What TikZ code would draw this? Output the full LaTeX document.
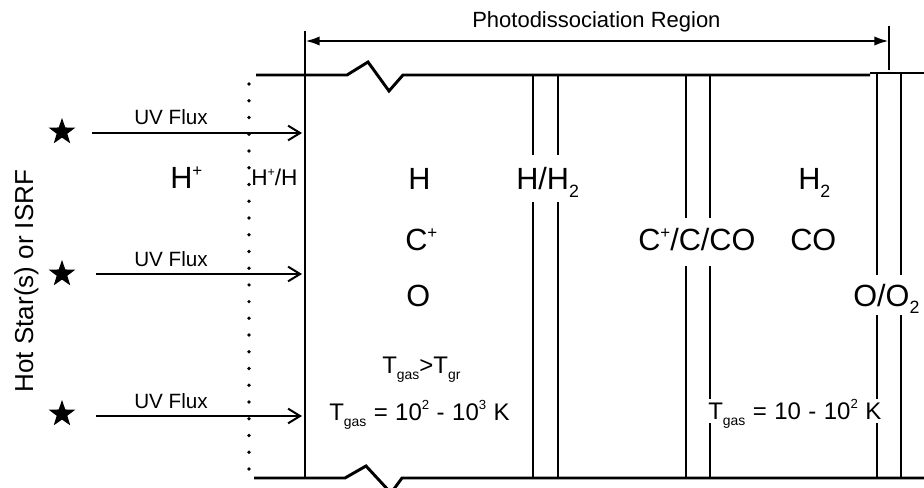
\documentclass[tikz,border=0pt]{standalone}
\usepackage{fontspec}
\setmainfont{Liberation Sans}
\usetikzlibrary{arrows.meta,shapes.geometric}
\newcommand\myup[1]{\raisebox{0.42em}{\scalebox{0.55}{#1}}}
\newcommand\mydn[1]{\raisebox{-0.26em}{\scalebox{0.58}{#1}}}
\newcommand\widesp{\spaceskip=0.31em\relax}
\begin{document}
\begin{tikzpicture}[x=0.75pt,y=-0.75pt,
  wall/.style={line width=2.2pt},
  bar/.style={line width=1.5pt},
  flux/.style={line width=1.5pt,-{Straight Barb[length=9pt,width=11pt]}},
  dim/.style={line width=2pt,{Latex[length=11pt,width=7pt]}-{Latex[length=11pt,width=7pt]}},
  starshape/.style={star,star points=5,star point ratio=2.5,fill=black,draw=none,inner sep=0pt,minimum size=21pt},
  lab/.style={inner sep=0pt,anchor=base west},
  big/.style={lab,font=\fontsize{23}{27}\selectfont},
  mid/.style={lab,font=\fontsize{17}{20}\selectfont},
  temp/.style={lab,font=\fontsize{18}{21}\selectfont},
  small/.style={lab,font=\fontsize{15.5}{18}\selectfont}]
\useasboundingbox (0,0) rectangle (924,488);

% top dimension arrow
\coordinate (dl) at (305,41);
\coordinate (dr) at (889,41);
\draw[wall] (305,31) -- (305,478);
\draw[wall] (889,26) -- (889,70);
\draw[dim] (dl) -- (dr);
\node[lab,font=\fontsize{16.5}{19}\selectfont] (pdr) at (472,28) {Photodissociation Region};

% top and bottom boundaries with break marks
\draw[wall] (256,75) -- (347,75) -- (368,62) -- (389,91) -- (403,75) -- (870,75);
\draw[wall] (870,73) -- (924,73);
\draw[wall] (254,478) -- (345,478) -- (366,466) -- (391,493) -- (402,478) -- (924,478);

% dotted ionisation front
\foreach \i in {0,...,23} \fill (249,{84+16.74*\i}) circle (1.4pt);

% double bars
\draw[bar] (533,75) -- (533,155) (533,202) -- (533,478);
\draw[bar] (558,75) -- (558,155) (558,202) -- (558,478);
\draw[bar] (686,75) -- (686,218) (686,266) -- (686,478);
\draw[bar] (710,75) -- (710,218) (710,266) -- (710,399) (710,423) -- (710,478);
\draw[bar] (877,73) -- (877,275) (877,315) -- (877,399) (877,423) -- (877,478);
\draw[bar] (901,73) -- (901,275) (901,315) -- (901,478);

% stars and UV flux
\node[starshape] (s1) at (62,132) {};
\node[starshape] (s2) at (62,274) {};
\node[starshape] (s3) at (62,414) {};
\coordinate (a1) at (92,133);  \coordinate (b1) at (302,133);
\coordinate (a2) at (96,274);  \coordinate (b2) at (302,274);
\coordinate (a3) at (96,416);  \coordinate (b3) at (302,416);
\draw[flux] (a1) -- (b1);
\draw[flux] (a2) -- (b2);
\draw[flux] (a3) -- (b3);
\node[small] (uv1) at (134,125) {UV Flux};
\node[small] (uv2) at (134,267) {UV Flux};
\node[small] (uv3) at (134,408) {UV Flux};

\node[rotate=90,anchor=base,inner sep=0pt,font=\fontsize{19.5}{23}\selectfont] (hot) at (33,281) {Hot Star(s) or ISRF};

% region labels
\node[big] (hp) at (170,189) {H\myup{+}};
\node[mid] (hph) at (251,186) {H\myup{+}/H};
\node[big] (h) at (408,190) {H};
\node[big] (cp) at (405,251) {C\myup{+}};
\node[big] (o) at (406,306) {O};
\node[big] (hh2) at (516,190) {H/H\mydn{2}};
\node[big] (ccco) at (638,251) {C\myup{+}/C/CO};
\node[big] (co) at (790,251) {CO};
\node[big] (h2) at (798,190) {H\mydn{2}};
\node[big] (oo2) at (853,306) {O/O\mydn{2}};
\node[temp] (tgt) at (382,373) {T\mydn{gas}>T\mydn{gr}};
\node[temp] (t1) at (329,420) {\widesp T\mydn{gas} = 10\myup{2} - 10\myup{3} K};
\node[temp] (t2) at (708,419) {\widesp T\mydn{gas} = 10 - 10\myup{2} K};
\end{tikzpicture}
\end{document}
